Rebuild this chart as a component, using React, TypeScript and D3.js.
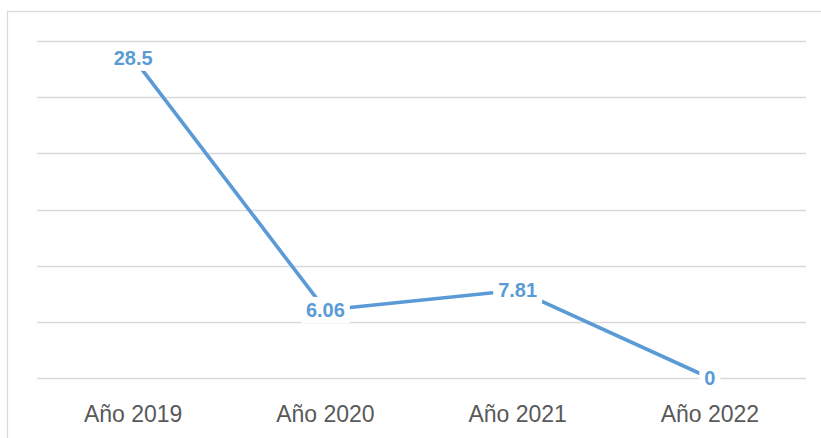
import React from "react";
import * as d3 from "d3";

const categories = ["Año 2019", "Año 2020", "Año 2021", "Año 2022"];
const values = [28.5, 6.06, 7.81, 0];
const labels = ["28.5", "6.06", "7.81", "0"];
const yTicks = [0, 5, 10, 15, 20, 25, 30];

const W = 821;
const H = 438;
const blue = "#5B9BD5";

export default function App() {
  const x = d3.scaleBand<string>().domain(categories).range([37, 806]);
  const y = d3.scaleLinear().domain([0, 30]).range([378, 41]);
  const cx = (c: string) => (x(c) as number) + x.bandwidth() / 2;
  const line = d3
    .line<number>()
    .x((_, i) => cx(categories[i]))
    .y((d) => y(d));
  const labelFont = 20;
  const charW = (s: string) =>
    s.split("").reduce((a, ch) => a + (ch === "." ? 0.278 : 0.556), 0) * labelFont;

  return (
    <svg
      width={W}
      height={H}
      style={{ position: "absolute", left: 0, top: 0, background: "#fff" }}
    >
      <rect x={0} y={0} width={W} height={H} fill="#fff" />
      <rect x={7.5} y={11.5} width={900} height={600} fill="#fff" stroke="#D9D9D9" strokeWidth={1.2} />
      {yTicks.map((t) => (
        <line
          key={t}
          x1={37}
          x2={806}
          y1={Math.round(y(t)) + 0.5}
          y2={Math.round(y(t)) + 0.5}
          stroke="#D9D9D9"
          strokeWidth={1.3}
        />
      ))}
      <path d={line(values) || ""} fill="none" stroke={blue} strokeWidth={3.6} strokeLinejoin="round" />
      {values.map((v, i) => {
        const w = charW(labels[i]);
        const px = cx(categories[i]);
        const py = y(v);
        return (
          <g key={i}>
            <rect x={px - w / 2 - 5} y={py - 13} width={w + 10} height={26} fill="#fff" />
            <text
              x={px}
              y={py}
              dy="0.36em"
              textAnchor="middle"
              fontFamily="'Liberation Sans', Arial, sans-serif"
              fontWeight="bold"
              fontSize={labelFont}
              fill={blue}
            >
              {labels[i]}
            </text>
          </g>
        );
      })}
      {categories.map((c) => (
        <text
          key={c}
          x={cx(c)}
          y={421.5}
          textAnchor="middle"
          fontFamily="'Liberation Sans', Arial, sans-serif"
          fontSize={23}
          fill="#595959"
        >
          {c}
        </text>
      ))}
    </svg>
  );
}
